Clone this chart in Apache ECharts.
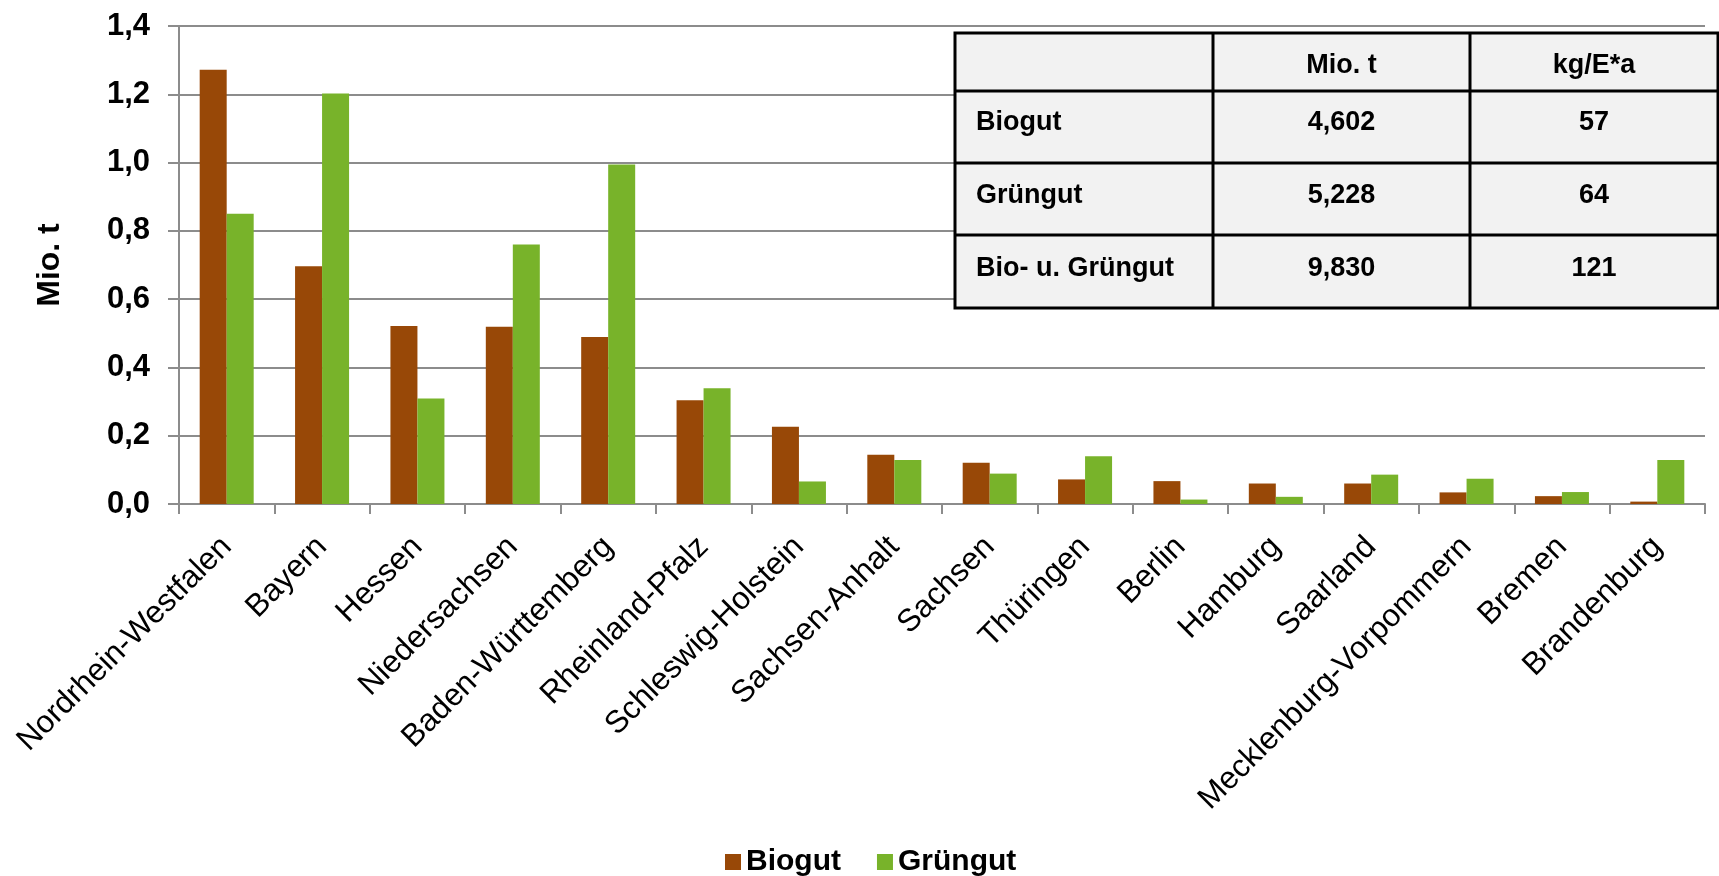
<!DOCTYPE html>
<html>
<head>
<meta charset="utf-8">
<script src="https://cdn.jsdelivr.net/npm/echarts@6/dist/echarts.min.js"></script>
<style>
html,body{margin:0;padding:0;background:#fff;}
#chart{width:1719px;height:876px;}
</style>
</head>
<body>
<div id="chart"></div>
<script>
var categories = ['Nordrhein-Westfalen','Bayern','Hessen','Niedersachsen','Baden-Württemberg','Rheinland-Pfalz','Schleswig-Holstein','Sachsen-Anhalt','Sachsen','Thüringen','Berlin','Hamburg','Saarland','Mecklenburg-Vorpommern','Bremen','Brandenburg'];
var biogut = [1.272, 0.696, 0.521, 0.519, 0.489, 0.304, 0.226, 0.144, 0.121, 0.072, 0.067, 0.060, 0.060, 0.034, 0.023, 0.007];
var gruengut = [0.850, 1.202, 0.309, 0.760, 0.994, 0.339, 0.066, 0.129, 0.089, 0.140, 0.013, 0.021, 0.086, 0.074, 0.035, 0.129];
var seriesNames = ['Biogut','Grüngut'];
var yTitle = 'Mio. t';

var tableHeader = ['', 'Mio. t', 'kg/E*a'];
var tableRowLabels = ['Biogut', 'Grüngut', 'Bio- u. Grüngut'];
var tableMio = ['4,602', '5,228', '9,830'];
var tableKg = ['57', '64', '121'];

var FONT = "'Liberation Sans', Arial, sans-serif";
var chart = echarts.init(document.getElementById('chart'));

// table layout
var tL = 955, tR = 1718, tT = 33, tB = 308;
var colX = [tL, 1213, 1470, tR];
var rowY = [tT, 91, 163, 235, tB];
var textY = [66, 123, 196, 269];

var graphics = [];
graphics.push({type:'rect', z:100, shape:{x:tL, y:tT, width:tR-tL, height:tB-tT}, style:{fill:'#f2f2f2', stroke:'#000', lineWidth:3}});
for (var i = 1; i < colX.length - 1; i++) {
  graphics.push({type:'line', z:101, shape:{x1:colX[i], y1:tT, x2:colX[i], y2:tB}, style:{stroke:'#000', lineWidth:3}});
}
for (var j = 1; j < rowY.length - 1; j++) {
  graphics.push({type:'line', z:101, shape:{x1:tL, y1:rowY[j], x2:tR, y2:rowY[j]}, style:{stroke:'#000', lineWidth:3}});
}
function addText(txt, x, y, align) {
  graphics.push({type:'text', z:102, x:x, y:y, style:{text:txt, fill:'#000', font:'bold 27px ' + FONT, textAlign:align, textVerticalAlign:'middle'}});
}
for (var h = 1; h < tableHeader.length; h++) {
  addText(tableHeader[h], (colX[h] + colX[h+1]) / 2, textY[0], 'center');
}
for (var r = 0; r < tableRowLabels.length; r++) {
  addText(tableRowLabels[r], 976, textY[r+1], 'left');
  addText(tableMio[r], (colX[1] + colX[2]) / 2, textY[r+1], 'center');
  addText(tableKg[r], (colX[2] + colX[3]) / 2, textY[r+1], 'center');
}

var gridColor = '#8c8c8c';
chart.setOption({
  animation: false,
  textStyle: {fontFamily: FONT},
  grid: {left: 179, right: 14, top: 26, bottom: 372, containLabel: false},
  legend: {
    data: seriesNames,
    top: 842,
    left: 720,
    icon: 'rect',
    itemWidth: 16,
    itemHeight: 16,
    itemGap: 36,
    textStyle: {fontFamily: FONT, fontSize: 30, fontWeight: 'bold', color: '#000'}
  },
  xAxis: {
    type: 'category',
    data: categories,
    axisLine: {show: true, lineStyle: {color: gridColor, width: 2}},
    axisTick: {show: true, alignWithLabel: false, length: 10, lineStyle: {color: gridColor, width: 2}},
    axisLabel: {rotate: 45, interval: 0, margin: 38, fontSize: 31.5, color: '#000', fontFamily: FONT}
  },
  yAxis: {
    type: 'value',
    min: 0, max: 1.4, interval: 0.2,
    name: yTitle,
    nameLocation: 'middle',
    nameRotate: 90,
    nameGap: 113,
    nameTextStyle: {fontSize: 32, fontWeight: 'bold', color: '#000', fontFamily: FONT},
    axisLine: {show: true, lineStyle: {color: gridColor, width: 2}},
    axisTick: {show: true, length: 11, lineStyle: {color: gridColor, width: 2}},
    splitLine: {show: true, lineStyle: {color: gridColor, width: 2}},
    axisLabel: {
      margin: 29, fontSize: 31, fontWeight: 'bold', color: '#000', fontFamily: FONT,
      formatter: function (v) { return v.toFixed(1).replace('.', ','); }
    }
  },
  series: [
    {name: seriesNames[0], type: 'bar', data: biogut, barWidth: 27, barGap: '0%', itemStyle: {color: '#984807'}},
    {name: seriesNames[1], type: 'bar', data: gruengut, barWidth: 27, barGap: '0%', itemStyle: {color: '#78b32a'}}
  ],
  graphic: graphics
});
</script>
</body>
</html>
